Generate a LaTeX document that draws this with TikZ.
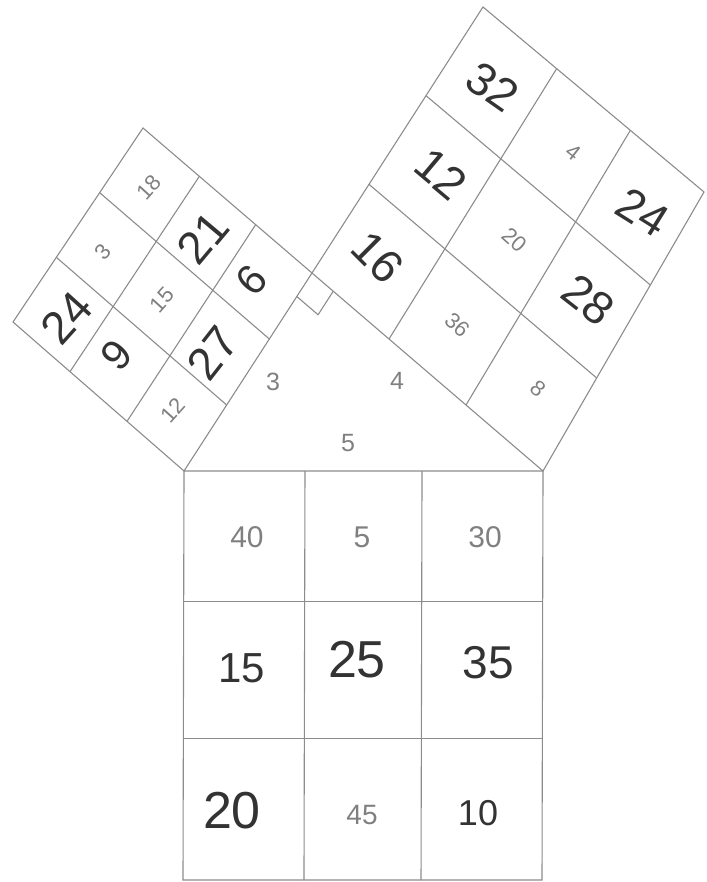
\documentclass[tikz,border=0pt]{standalone}
\usepackage{fontspec}
\setmainfont{Liberation Sans}
\usetikzlibrary{calc}

\tikzset{
  pencil/.style={draw=black!45, line width=1.1pt},
  tinynum/.style={text=black!50, font=\fontsize{22}{24}\selectfont, inner sep=0pt},
  smallnum/.style={text=black!50, font=\fontsize{30}{32}\selectfont, inner sep=0pt},
  bignum/.style={text=black!80, font=\fontsize{46}{50}\selectfont, inner sep=0pt},
}

\begin{document}
\begin{tikzpicture}[x=1pt, y=-1pt]
        \useasboundingbox (0,0) rectangle (706,882);
        % triangle
        \coordinate (A) at (184,471);
        \coordinate (B) at (543,471);
        \coordinate (C) at (312,273);
        % outer corners
        \coordinate (L1) at (13,322);
        \coordinate (L2) at (143,128);
        \coordinate (R1) at (483,7);
        \coordinate (R2) at (704,192);
        \coordinate (D1) at (183,880);
        \coordinate (D2) at (542,880);
        \draw[pencil] (A) -- (L1) -- (L2) -- (C) -- cycle;
        \draw[pencil] (C) -- (R1) -- (R2) -- (B) -- cycle;
        \draw[pencil] (A) -- (D1) -- (D2) -- (B) -- cycle;
        \foreach \t in {1/3,2/3}{
          \draw[pencil] ($(A)!\t!(C)$) -- ($(L1)!\t!(L2)$);
          \draw[pencil] ($(A)!\t!(L1)$) -- ($(C)!\t!(L2)$);
          \draw[pencil] ($(C)!\t!(B)$) -- ($(R1)!\t!(R2)$);
          \draw[pencil] ($(C)!\t!(R1)$) -- ($(B)!\t!(R2)$);
        }
        \foreach \t in {0.337,0.663}
          \draw[pencil] ($(A)!\t!(B)$) -- ($(D1)!\t!(D2)$);
        \foreach \t in {0.32,0.655}
          \draw[pencil] ($(A)!\t!(D1)$) -- ($(B)!\t!(D2)$);
        % right angle
        \coordinate (P1) at ($(C)!28pt!(A)$);
        \coordinate (P2) at ($(C)!28pt!(B)$);
        \draw[pencil] (P1) -- ($(P1)+(P2)-(C)$) -- (P2);
        % side labels
        \node[tinynum, font=\fontsize{25}{27}\selectfont] (s3) at (273,382) {3};
        \node[tinynum, font=\fontsize{25}{27}\selectfont] (s4) at (397,381) {4};
        \node[tinynum, font=\fontsize{25}{27}\selectfont] (s5) at (348,443) {5};
        % left square
        \node[tinynum, rotate=48] (l18) at (149,187) {18};
        \node[tinynum, rotate=48] (l3) at (103,252) {3};
        \node[bignum, rotate=48] (l24) at (67,318) {24};
        \node[bignum, rotate=50] (l21) at (203,238) {21};
        \node[tinynum, rotate=48] (l15) at (162,300) {15};
        \node[bignum, rotate=48, font=\fontsize{42}{44}\selectfont] (l9) at (117,355) {9};
        \node[bignum, rotate=48, font=\fontsize{42}{44}\selectfont] (l6) at (252,280) {6};
        \node[bignum, rotate=52] (l27) at (213,353) {27};
        \node[tinynum, rotate=48] (l12) at (173,410) {12};
        % right square
        \node[bignum, rotate=-35] (r32) at (493,87) {32};
        \node[tinynum, rotate=-38] (r4) at (573,152) {4};
        \node[bignum, rotate=-32] (r24) at (643,212) {24};
        \node[bignum, rotate=-40] (r12) at (441,174) {12};
        \node[tinynum, rotate=-42] (r20) at (515,240) {20};
        \node[bignum, rotate=-38] (r28) at (588,300) {28};
        \node[bignum, rotate=-45] (r16) at (378,257) {16};
        \node[tinynum, rotate=-42] (r36) at (458,325) {36};
        \node[tinynum, rotate=-40] (r8) at (538,389) {8};
        % bottom square
        \node[smallnum] (b40) at (247,537) {40};
        \node[smallnum] (b5) at (362,537) {5};
        \node[smallnum] (b30) at (485,537) {30};
        \node[bignum, font=\fontsize{42}{44}\selectfont] (b15) at (242,668) {15};
        \node[bignum, font=\fontsize{52}{54}\selectfont] (b25) at (357,660) {25};
        \node[bignum] (b35) at (488,663) {35};
        \node[bignum, font=\fontsize{52}{54}\selectfont] (b20) at (232,811) {20};
        \node[smallnum, font=\fontsize{28}{30}\selectfont] (b45) at (362,815) {45};
        \node[bignum, font=\fontsize{36}{38}\selectfont] (b10) at (478,813) {10};
\end{tikzpicture}
\end{document}
